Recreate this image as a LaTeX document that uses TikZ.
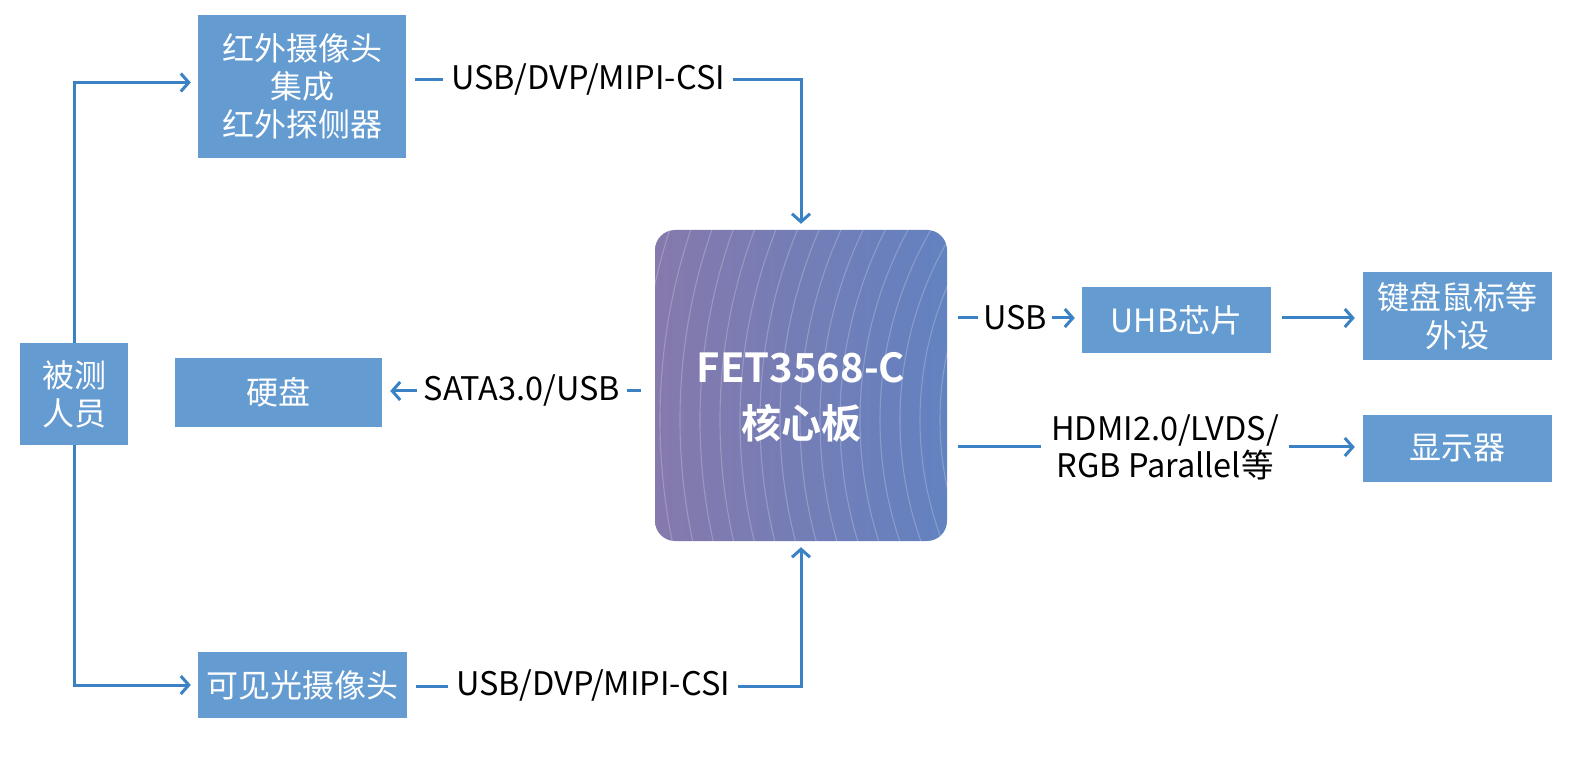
\documentclass[tikz,border=0pt]{standalone}
\usepackage{fontspec}
\setmainfont{Noto Sans CJK SC}[BoldFont={Noto Sans CJK SC Bold}]
\usetikzlibrary{arrows.meta}
\definecolor{boxblue}{RGB}{100,155,208}
\definecolor{linkblue}{RGB}{58,130,196}
\definecolor{corel}{RGB}{134,121,172}
\definecolor{corer}{RGB}{98,130,192}
\tikzset{
  box/.style={fill=boxblue, text=white, inner sep=0pt, align=center,
    font=\fontsize{32}{38}\selectfont},
  lbl/.style={text=black, inner sep=8pt, align=center,
    font=\fontsize{32.5}{37}\selectfont},
  conn/.style={draw=linkblue, line width=3pt},
  arr/.style={conn, -{Straight Barb[length=8pt,width=18pt,line width=3pt]}},
}
\begin{document}
\begin{tikzpicture}[x=1pt,y=-1pt]
\useasboundingbox (0,0) rectangle (1572,775);
% core board
\begin{scope}
  \clip[rounded corners=20pt] (655,230) rectangle (947,541);
  \shade[left color=corel, right color=corer] (655,230) rectangle (947,541);
  \foreach \r in {300,320,...,780}
    \draw[white, opacity=0.22, line width=1.1pt] (1260,420) circle[radius=\r];
\end{scope}
\node[minimum width=292pt, minimum height=311pt, inner sep=0pt] (core) at (801,385.5) {};
\node[text=white, align=center, font=\bfseries\fontsize{40}{56}\selectfont] (coretxt) at (801,397) {FET3568-C\\核心板};
% boxes
\node[box, minimum width=208pt, minimum height=143pt] (ir) at (302,86.5) {红外摄像头\\集成\\红外探侧器};
\node[box, minimum width=108pt, minimum height=102pt] (person) at (74,394) {被测\\人员};
\node[box, minimum width=207pt, minimum height=69pt] (hdd) at (278.5,392.5) {硬盘};
\node[box, minimum width=209pt, minimum height=66pt] (vis) at (302.5,685) {可见光摄像头};
\node[box, minimum width=189pt, minimum height=66pt] (uhb) at (1176.5,320) {UHB芯片};
\node[box, minimum width=189pt, minimum height=88pt] (kb) at (1457.5,316) {键盘鼠标等\\外设};
\node[box, minimum width=189pt, minimum height=67pt] (disp) at (1457.5,448.5) {显示器};
% labels
\node[lbl] (l1) at (588,80) {USB/DVP/MIPI-CSI};
\node[lbl] (l2) at (593,686) {USB/DVP/MIPI-CSI};
\node[lbl, inner sep=7pt] (sata) at (522,391) {SATA3.0/USB};
\node[lbl, inner sep=5pt] (usb) at (1015,318) {USB};
\node[lbl, inner sep=10pt] (hdmi) at (1165,447) {HDMI2.0/LVDS/\\RGB Parallel等};
% connectors
\draw[arr, shorten >=7pt] (person.north) |- ([yshift=4pt]ir.west);
\draw[arr, shorten >=7pt] (person.south) |- (vis.west);
\draw[conn, shorten <=9pt] (ir.east |- l1.west) -- (l1.west);
\draw[arr, shorten >=6pt] (l1.east) -| (core.north);
\draw[conn, shorten <=9pt] (vis.east |- l2.west) -- (l2.west);
\draw[arr, shorten >=6pt] (l2.east) -| (core.south);
\draw[conn, shorten <=14pt] (sata.east -| core.west) -- (sata.east);
\draw[arr, shorten >=8pt] (sata.west) -- (sata.west -| hdd.east);
\draw[conn, shorten <=11pt] (usb.west -| core.east) -- (usb.west);
\draw[arr, shorten >=7pt] (usb.east) -- (usb.east -| uhb.west);
\draw[arr, shorten <=11pt, shorten >=8pt] (uhb.east |- usb.east) -- (kb.west |- usb.east);
\draw[conn, shorten <=11pt] (hdmi.west -| core.east) -- (hdmi.west);
\draw[arr, shorten >=8pt] (hdmi.east) -- (hdmi.east -| disp.west);
\end{tikzpicture}
\end{document}
